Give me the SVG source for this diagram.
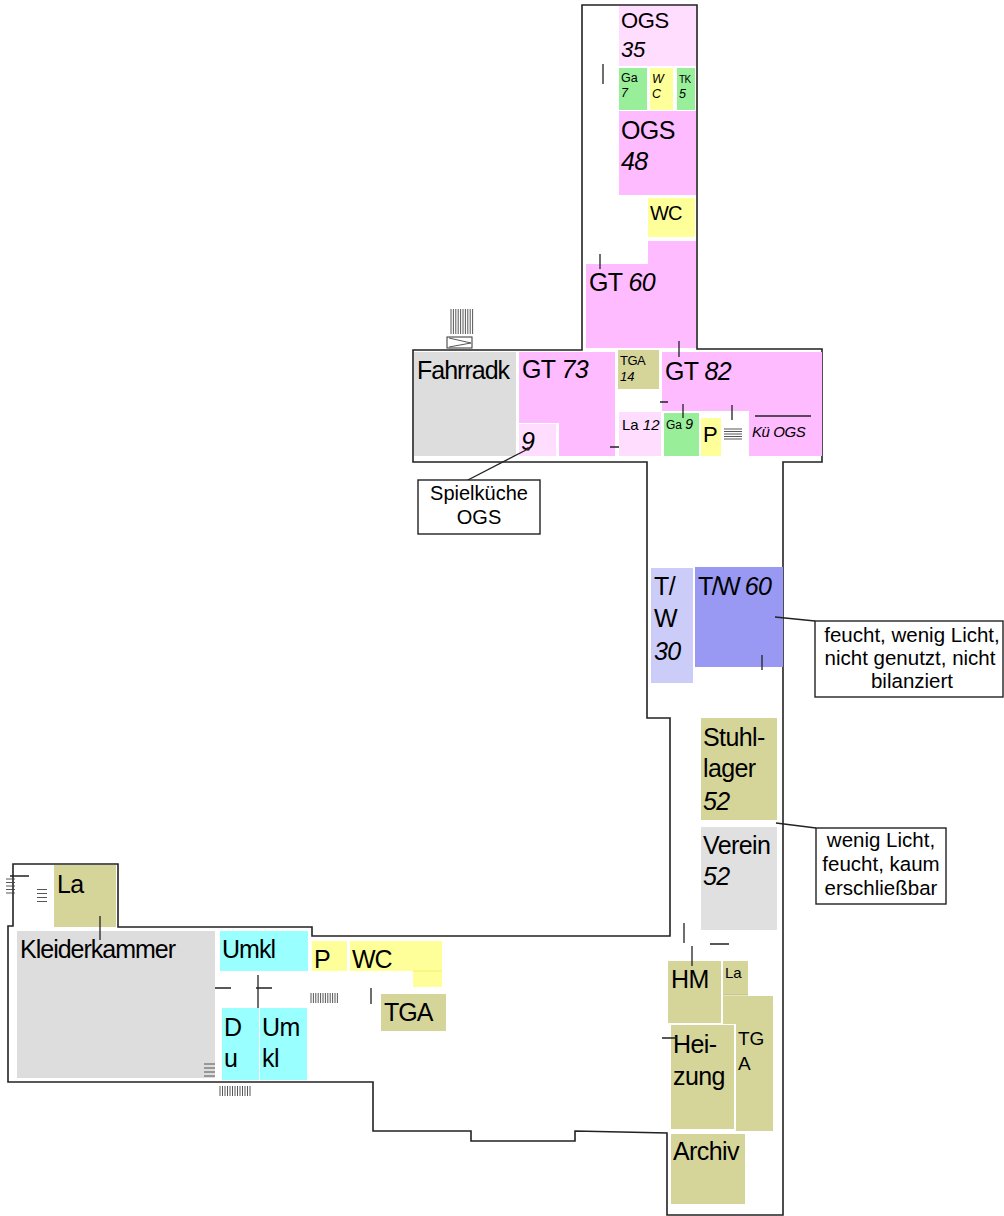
<svg xmlns="http://www.w3.org/2000/svg" width="1004" height="1216" viewBox="0 0 1004 1216">
<style>
.lp{fill:#FFDDFF}.pk{fill:#FFBBFF}.gr{fill:#99EE99}.ye{fill:#FFFF99}.ol{fill:#D5D59A}.gy{fill:#DDDDDD}.gy2{fill:#E0E0E0}.cy{fill:#99FFFF}.lv{fill:#CCCCF8}.bl{fill:#9999F3}
text{font-family:"Liberation Sans",Arial,sans-serif;fill:#000}
.b{font-size:25px;letter-spacing:-0.6px}
.m{font-size:22px;letter-spacing:-0.3px}
.s{font-size:12.5px}
.c{font-size:20px;text-anchor:middle}
.i{font-style:italic}
.wall{fill:none;stroke:#222;stroke-width:1.6}
.tk{fill:none;stroke:#222;stroke-width:1.3}
.st{fill:none;stroke:#444;stroke-width:0.9}
.box{fill:#fff;stroke:#222;stroke-width:1.4}
</style>
<rect width="1004" height="1216" fill="#fff"/>
<g id="walls">
<path class="wall" d="M582,5 H697 V349 H822 V462 H783 V1215 H667 V1133 L575,1131 V1141 H471 V1131 H373 V1082 H8 V926 H13 V864 H118 V927 H312 V936 H670 V718 H647 V462 H413 V350 H582 Z"/>
</g>
<g id="ogs35"><rect class="lp" x="619" y="6" width="77" height="60"/><text class="m" x="621" y="28">OGS</text><text class="m i" x="621" y="57">35</text></g>
<g id="ga7"><rect class="gr" x="619" y="68" width="28" height="42"/><text class="s" x="621" y="82">Ga</text><text class="s i" x="621" y="97">7</text></g>
<g id="wc-tower-small"><rect class="ye" x="650" y="68" width="23" height="42"/><text class="s i" x="652" y="83">W</text><text class="s i" x="652" y="98">C</text></g>
<g id="tk5"><rect class="gr" x="677" y="68" width="18" height="42"/><text x="679" y="83" style="font-size:10px;letter-spacing:-0.5px">TK</text><text class="s i" x="679" y="98">5</text></g>
<g id="ogs48"><rect class="pk" x="619" y="111" width="77" height="84"/><text class="b" x="621" y="139">OGS</text><text class="b i" x="621" y="170">48</text></g>
<g id="wc-tower"><rect class="ye" x="648" y="198" width="47" height="39"/><text x="650" y="220" style="font-size:20px;letter-spacing:-0.8px">WC</text></g>
<g id="gt60"><path class="pk" d="M648,241 H696 V348 H586 V264 H648 Z"/><text class="b" x="589" y="291">GT <tspan class="i">60</tspan></text></g>
<g id="fahrradk"><rect class="gy" x="414" y="352" width="102" height="104"/><text class="b" x="417" y="379" style="letter-spacing:-1px">Fahrradk</text></g>
<g id="gt73"><path class="pk" d="M519,352 H615 V456 H559 V423 H519 Z"/><text class="b" x="522" y="378">GT <tspan class="i">73</tspan></text></g>
<g id="spielkueche"><rect class="lp" x="519" y="424" width="37" height="32"/><text class="b i" x="521" y="450">9</text></g>
<g id="tga14"><rect class="ol" x="618" y="350" width="41" height="39"/><text x="620" y="365" style="font-size:13px;letter-spacing:-0.5px">TGA</text><text class="s i" x="620" y="381" style="font-size:13px">14</text></g>
<g id="gt82"><path class="pk" d="M662,352 H822 V456 H749 V411 H662 Z"/><text class="b" x="665" y="380">GT <tspan class="i">82</tspan></text></g>
<g id="kue-ogs"><text class="i" x="752" y="437" style="font-size:15px;letter-spacing:-0.4px">Kü OGS</text><path class="tk" d="M755,416 H811" stroke-width="1.6"/></g>
<g id="la12"><rect class="lp" x="619" y="412" width="42" height="44"/><text x="622" y="430" style="font-size:15px">La <tspan class="i">12</tspan></text></g>
<g id="ga9"><rect class="gr" x="664" y="413" width="35" height="43"/><text x="666" y="429" style="font-size:12px">Ga <tspan class="i" style="font-size:14px">9</tspan></text></g>
<g id="p-top"><rect class="ye" x="701" y="418" width="20" height="38"/><text x="703" y="442" style="font-size:22px">P</text></g>
<g id="tw30"><rect class="lv" x="651" y="568" width="42" height="115"/><text class="b" x="654" y="595">T/</text><text class="b" x="654" y="627">W</text><text class="b i" x="654" y="660">30</text></g>
<g id="tw60"><rect class="bl" x="695" y="567" width="88" height="100"/><text class="b" x="698" y="595" style="letter-spacing:-1.5px">T/W <tspan class="i" style="letter-spacing:-0.6px">60</tspan></text></g>
<g id="stuhllager"><rect class="ol" x="701" y="718" width="76" height="102"/><text class="b" x="703" y="746">Stuhl-</text><text class="b" x="703" y="777">lager</text><text class="b i" x="703" y="810">52</text></g>
<g id="verein"><rect class="gy2" x="701" y="827" width="76" height="103"/><text class="b" x="703" y="854">Verein</text><text class="b i" x="703" y="885">52</text></g>
<g id="hm"><rect class="ol" x="668" y="961" width="53" height="62"/><text class="b" x="671" y="988">HM</text></g>
<g id="la-hm"><rect class="ol" x="723" y="961" width="25" height="34"/><path d="M723,995 H748" stroke="#B8B878" stroke-width="0.8"/><text x="725" y="978" style="font-size:15px">La</text></g>
<g id="tga-right"><path class="ol" d="M723,996 H773 V1131 H736 V1024 H723 Z"/><text x="738" y="1045" style="font-size:19px">TG</text><text x="738" y="1070" style="font-size:19px">A</text></g>
<g id="heizung"><rect class="ol" x="671" y="1025" width="63" height="104"/><text class="b" x="673" y="1053">Hei-</text><text class="b" x="673" y="1085">zung</text></g>
<g id="archiv"><rect class="ol" x="671" y="1134" width="74" height="70"/><text class="b" x="673" y="1160">Archiv</text></g>
<g id="la-left"><rect class="ol" x="54" y="865" width="62" height="62"/><text class="b" x="57" y="893">La</text></g>
<g id="kleiderkammer"><rect class="gy" x="17" y="931" width="198" height="147"/><text class="b" x="20" y="958" style="letter-spacing:-1px">Kleiderkammer</text></g>
<g id="umkl"><rect class="cy" x="220" y="931" width="88" height="40"/><text class="b" x="222" y="958" style="letter-spacing:-1px">Umkl</text></g>
<g id="du"><rect class="cy" x="222" y="1008" width="37" height="72"/><text class="b" x="224" y="1036">D</text><text class="b" x="224" y="1067">u</text></g>
<g id="umkl2"><rect class="cy" x="260" y="1008" width="47" height="72"/><text class="b" x="262" y="1036">Um</text><text class="b" x="262" y="1067">kl</text></g>
<g id="p-left"><rect class="ye" x="312" y="941" width="35" height="30"/><text x="314" y="968" style="font-size:25px">P</text></g>
<g id="wc-left"><path class="ye" d="M350,941 H442 V987 H413 V971 H350 Z"/><path d="M413,971 H442" stroke="#F4F070" stroke-width="1"/><text x="352" y="968" style="font-size:25px;letter-spacing:-1.2px">WC</text></g>
<g id="tga-left"><rect class="ol" x="381" y="994" width="65" height="37"/><text class="b" x="384" y="1021" style="letter-spacing:-1px">TGA</text></g>
<g id="marks">
<path class="tk" d="M603,64 V84 M600,254 V269 M679,341 V357 M660,402 H668 M683,404 V418 M732,405 V420 M610,447 H619 M762,655 V670 M684,923 V943 M710,944 H729 M692,946 V966 M662,1038 H677 M100,916 V940 M215,988 H231 M258,975 V1008 M256,988 H272 M371,988 V1004 M10,876 H29"/>
<path class="st" d="M451,309V334 M453.4,309V334 M455.8,309V334 M458.2,309V334 M460.6,309V334 M463,309V334 M465.4,309V334 M467.8,309V334 M470.2,309V334 M472.6,309V334"/>
<rect x="447" y="337" width="25" height="11" fill="#fff" stroke="#333" stroke-width="1"/>
<path class="st" d="M449,338 L471,343 L449,347"/>
<path class="st" d="M724,429 H742 M724,431.5 H742 M724,434 H742 M724,436.5 H742 M724,439 H742"/>
<path class="st" d="M311,993V1003 M313.4,993V1003 M315.8,993V1003 M318.2,993V1003 M320.6,993V1003 M323,993V1003 M325.4,993V1003 M327.8,993V1003 M330.2,993V1003 M332.6,993V1003 M335,993V1003 M337.4,993V1003"/>
<path class="st" d="M220,1086V1096 M222.5,1086V1096 M225,1086V1096 M227.5,1086V1096 M230,1086V1096 M232.5,1086V1096 M235,1086V1096 M237.5,1086V1096 M240,1086V1096 M242.5,1086V1096 M245,1086V1096 M247.5,1086V1096 M250,1086V1096"/>
<path class="st" d="M204,1064 H215 M204,1068 H215 M204,1072 H215 M204,1076 H215"/>
<path class="st" d="M37,889.5 H47 M37,893.5 H47 M37,897.5 H47 M37,901.5 H47"/>
<path class="st" d="M6,879 H15 M6,882.5 H15 M6,886 H15 M6,889.5 H15 M6,893 H15"/>
</g>
<g id="connectors">
<path class="tk" d="M466,481 L528,449" stroke-width="1.6"/>
<circle cx="528" cy="449" r="1.8" fill="#222"/>
<path class="tk" d="M775,617 L815,621"/>
<path class="tk" d="M776,823 L816,828"/>
</g>
<g id="note-spielkueche"><rect class="box" x="418" y="480" width="122" height="54"/><text class="c" x="479" y="500">Spielküche</text><text class="c" x="479" y="524">OGS</text></g>
<g id="note-tw60"><rect class="box" x="815" y="621" width="188" height="76"/><text class="c" x="912" y="642" style="font-size:20.5px">feucht, wenig Licht,</text><text class="c" x="910" y="665" style="font-size:20.5px">nicht genutzt, nicht</text><text class="c" x="912" y="688" style="font-size:20.5px">bilanziert</text></g>
<g id="note-verein"><rect class="box" x="816" y="828" width="130" height="76"/><text class="c" x="881" y="847" style="font-size:20.5px">wenig Licht,</text><text class="c" x="881" y="871" style="font-size:20.5px">feucht, kaum</text><text class="c" x="881" y="895" style="font-size:20.5px">erschließbar</text></g>
</svg>
